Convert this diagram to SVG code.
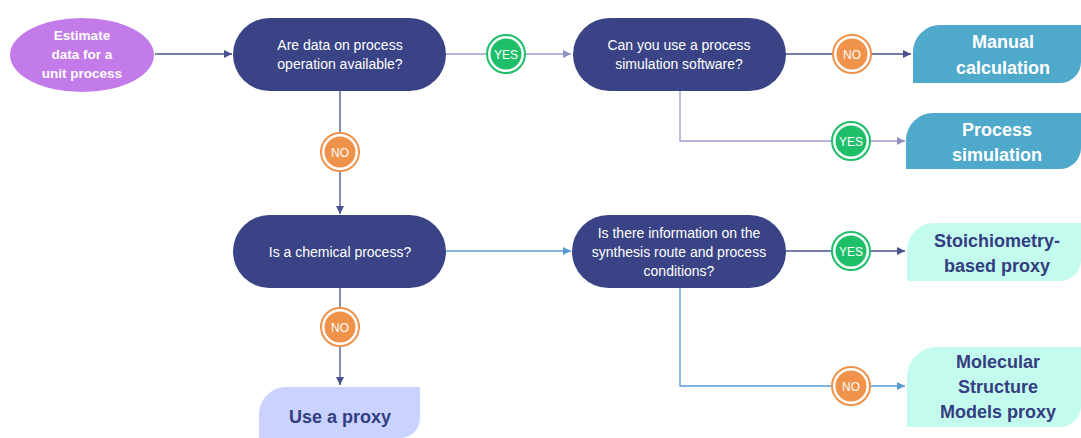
<svg xmlns="http://www.w3.org/2000/svg" width="1081" height="438" viewBox="0 0 1081 438">
<style>
.pill{fill:#394385}
.pt{font-family:"Liberation Sans",Arial,sans-serif;font-size:14px;fill:#ffffff;text-anchor:middle}
.bt{font-family:"Liberation Sans",Arial,sans-serif;font-size:18px;font-weight:bold;text-anchor:middle}
.et{font-family:"Liberation Sans",Arial,sans-serif;font-size:13.5px;font-weight:bold;fill:#ffffff;text-anchor:middle}
.ct{font-family:"Liberation Sans",Arial,sans-serif;font-size:12px;fill:#ffffff;text-anchor:middle}
.ln{fill:none;stroke-width:1.3}
.dk{stroke:#48508f}
.lt{stroke:#9a9ccc}
.bl{stroke:#5b9bd5}
.yes-o{fill:#ffffff;stroke:#1fbf6a;stroke-width:2}
.yes-i{fill:#1fbf6a}
.no-o{fill:#ffffff;stroke:#f0924a;stroke-width:2}
.no-i{fill:#f0924a}
</style>
<defs>
<marker id="ad" viewBox="0 0 10 10" refX="10" refY="5" markerWidth="8" markerHeight="8" markerUnits="userSpaceOnUse" orient="auto"><path d="M0,0 L10,5 L0,10 z" fill="#48508f"/></marker>
<marker id="al" viewBox="0 0 10 10" refX="10" refY="5" markerWidth="8" markerHeight="8" markerUnits="userSpaceOnUse" orient="auto"><path d="M0,0 L10,5 L0,10 z" fill="#8f92c4"/></marker>
<marker id="ab" viewBox="0 0 10 10" refX="10" refY="5" markerWidth="8" markerHeight="8" markerUnits="userSpaceOnUse" orient="auto"><path d="M0,0 L10,5 L0,10 z" fill="#5b9bd5"/></marker>
</defs>
<rect width="1081" height="438" fill="#ffffff"/>

<g id="connectors">
<path class="ln dk" d="M155,54 H232" marker-end="url(#ad)"/>
<path class="ln lt" d="M446,54 H571" marker-end="url(#al)"/>
<path class="ln dk" d="M785,54 H911" marker-end="url(#ad)"/>
<path class="ln lt" d="M680,91 V141 H905" marker-end="url(#al)"/>
<path class="ln dk" d="M340,91 V214" marker-end="url(#ad)"/>
<path class="ln bl" d="M446,251 H571" marker-end="url(#ab)"/>
<path class="ln dk" d="M786,251 H905" marker-end="url(#ad)"/>
<path class="ln bl" d="M680,288 V386 H905" marker-end="url(#ab)"/>
<path class="ln dk" d="M340,288 V385" marker-end="url(#ad)"/>
</g>

<g id="start">
<ellipse cx="82" cy="55" rx="72" ry="37" fill="#c27be8"/>
<text class="et" x="82" y="40">Estimate</text>
<text class="et" x="82" y="59">data for a</text>
<text class="et" x="82" y="78">unit process</text>
</g>

<g id="q1">
<rect class="pill" x="233" y="18" width="213" height="73" rx="36.5"/>
<text class="pt" x="340" y="50">Are data on process</text>
<text class="pt" x="340" y="69">operation available?</text>
</g>

<g id="q2">
<rect class="pill" x="573" y="18" width="213" height="73" rx="36.5"/>
<text class="pt" x="679" y="50">Can you use a process</text>
<text class="pt" x="679" y="69">simulation software?</text>
</g>

<g id="q3">
<rect class="pill" x="233" y="215" width="213" height="73" rx="36.5"/>
<text class="pt" x="340" y="257">Is a chemical process?</text>
</g>

<g id="q4">
<rect class="pill" x="572" y="215" width="214" height="73" rx="36.5"/>
<text class="pt" x="679" y="238">Is there information on the</text>
<text class="pt" x="679" y="257">synthesis route and process</text>
<text class="pt" x="679" y="276">conditions?</text>
</g>

<g id="manual">
<path d="M913,83 V52 A27,27 0 0 1 940,25 H1081 V62 A21,21 0 0 1 1060,83 Z" fill="#4fa9cb"/>
<text class="bt" x="1003" y="48" fill="#ffffff">Manual</text>
<text class="bt" x="1003" y="74" fill="#ffffff">calculation</text>
</g>

<g id="procsim">
<path d="M906,169 V140 A27,27 0 0 1 933,113 H1081 V148 A21,21 0 0 1 1060,169 Z" fill="#4fa9cb"/>
<text class="bt" x="997" y="136" fill="#ffffff">Process</text>
<text class="bt" x="997" y="161" fill="#ffffff">simulation</text>
</g>

<g id="stoich">
<path d="M907,281 V250 A27,27 0 0 1 934,223 H1081 V260 A21,21 0 0 1 1060,281 Z" fill="#c3fcef"/>
<text class="bt" x="997" y="247" fill="#333d7f">Stoichiometry-</text>
<text class="bt" x="997" y="272" fill="#333d7f">based proxy</text>
</g>

<g id="molecular">
<path d="M907,427 V377 A30,30 0 0 1 937,347 H1081 V406 A21,21 0 0 1 1060,427 Z" fill="#c3fcef"/>
<text class="bt" x="998" y="368" fill="#333d7f">Molecular</text>
<text class="bt" x="998" y="393" fill="#333d7f">Structure</text>
<text class="bt" x="998" y="418" fill="#333d7f">Models proxy</text>
</g>

<g id="proxy">
<path d="M259,438 V414 A27,27 0 0 1 286,387 H420 V418 A20,20 0 0 1 400,438 Z" fill="#cad3ff"/>
<text class="bt" x="340" y="423" fill="#333d7f">Use a proxy</text>
</g>

<g id="yes1"><circle class="yes-o" cx="506" cy="54" r="19"/><circle class="yes-i" cx="506" cy="54" r="15.5"/><text class="ct" x="506" y="58.5">YES</text></g>
<g id="no1"><circle class="no-o" cx="852" cy="54" r="19"/><circle class="no-i" cx="852" cy="54" r="15.5"/><text class="ct" x="852" y="58.5">NO</text></g>
<g id="yes2"><circle class="yes-o" cx="851" cy="141" r="19"/><circle class="yes-i" cx="851" cy="141" r="15.5"/><text class="ct" x="851" y="145.5">YES</text></g>
<g id="no2"><circle class="no-o" cx="340" cy="152" r="19"/><circle class="no-i" cx="340" cy="152" r="15.5"/><text class="ct" x="340" y="156.5">NO</text></g>
<g id="yes3"><circle class="yes-o" cx="851" cy="251" r="19"/><circle class="yes-i" cx="851" cy="251" r="15.5"/><text class="ct" x="851" y="255.5">YES</text></g>
<g id="no3"><circle class="no-o" cx="340" cy="327" r="19"/><circle class="no-i" cx="340" cy="327" r="15.5"/><text class="ct" x="340" y="331.5">NO</text></g>
<g id="no4"><circle class="no-o" cx="851" cy="386" r="19"/><circle class="no-i" cx="851" cy="386" r="15.5"/><text class="ct" x="851" y="390.5">NO</text></g>
</svg>
